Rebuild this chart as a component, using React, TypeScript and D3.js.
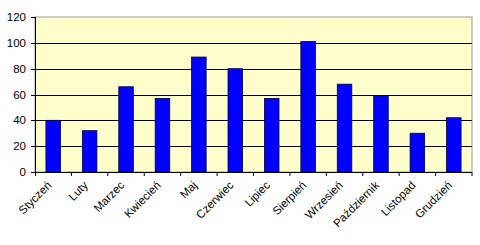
import React from "react";
import * as d3 from "d3";

const months = ["Styczeń", "Luty", "Marzec", "Kwiecień", "Maj", "Czerwiec", "Lipiec", "Sierpień", "Wrzesień", "Październik", "Listopad", "Grudzień"];
const values = [40, 32, 66, 57, 89, 80, 57, 101, 68, 59, 30, 42];
const yTicks = [0, 20, 40, 60, 80, 100, 120];

export default function App() {
  const W = 480, H = 245;
  const left = 35, right = 472, top = 17, bottom = 172;
  const x = d3.scaleBand<string>().domain(months).range([left, right]).paddingInner(0.6).paddingOuter(0.3);
  const xc = d3.scaleBand<string>().domain(months).range([left, right]);
  const y = d3.scaleLinear().domain([0, 120]).range([bottom, top]);
  const font = "'Liberation Sans', Arial, sans-serif";
  return (
    <svg width={W} height={H} style={{ position: "absolute", left: 0, top: 0, background: "#fff" }}>
      <rect x={left} y={top} width={right - left} height={bottom - top} fill="#FFFFCC" stroke="#9a9a9a" strokeWidth={1} />
      {yTicks.filter(t => t > 0 && t < 120).map(t => (
        <line key={t} x1={left} x2={right} y1={Math.round(y(t)) + 0.5} y2={Math.round(y(t)) + 0.5} stroke="#000" strokeWidth={1} />
      ))}
      {months.map((m, i) => (
        <rect key={m} x={x(m)!} y={y(values[i])} width={x.bandwidth()} height={bottom - y(values[i])} fill="#0000FF" stroke="#000040" strokeWidth={0.8} />
      ))}
      <line x1={left + 0.5} x2={left + 0.5} y1={top} y2={bottom} stroke="#000" />
      <line x1={left} x2={right} y1={bottom + 0.5} y2={bottom + 0.5} stroke="#000" />
      {yTicks.map(t => (
        <g key={t}>
          <line x1={left - 4} x2={left} y1={Math.round(y(t)) + 0.5} y2={Math.round(y(t)) + 0.5} stroke="#000" />
          <text x={left - 9} y={y(t) + 4} textAnchor="end" fontFamily={font} fontSize={11.5} fill="#000">{t}</text>
        </g>
      ))}
      {months.map((m, i) => (
        <line key={"t" + m} x1={xc(m)! + xc.bandwidth()} x2={xc(m)! + xc.bandwidth()} y1={bottom} y2={bottom + 4} stroke="#000" />
      ))}
      <line x1={left + 0.5} x2={left + 0.5} y1={bottom} y2={bottom + 4} stroke="#000" />
      {months.map(m => {
        const cx = xc(m)! + xc.bandwidth() / 2 - 1;
        const cy = bottom + 14;
        return (
          <text key={"l" + m} transform={`translate(${cx},${cy}) rotate(-45)`} textAnchor="end" fontFamily={font} fontSize={11.5} fill="#000">{m}</text>
        );
      })}
    </svg>
  );
}
